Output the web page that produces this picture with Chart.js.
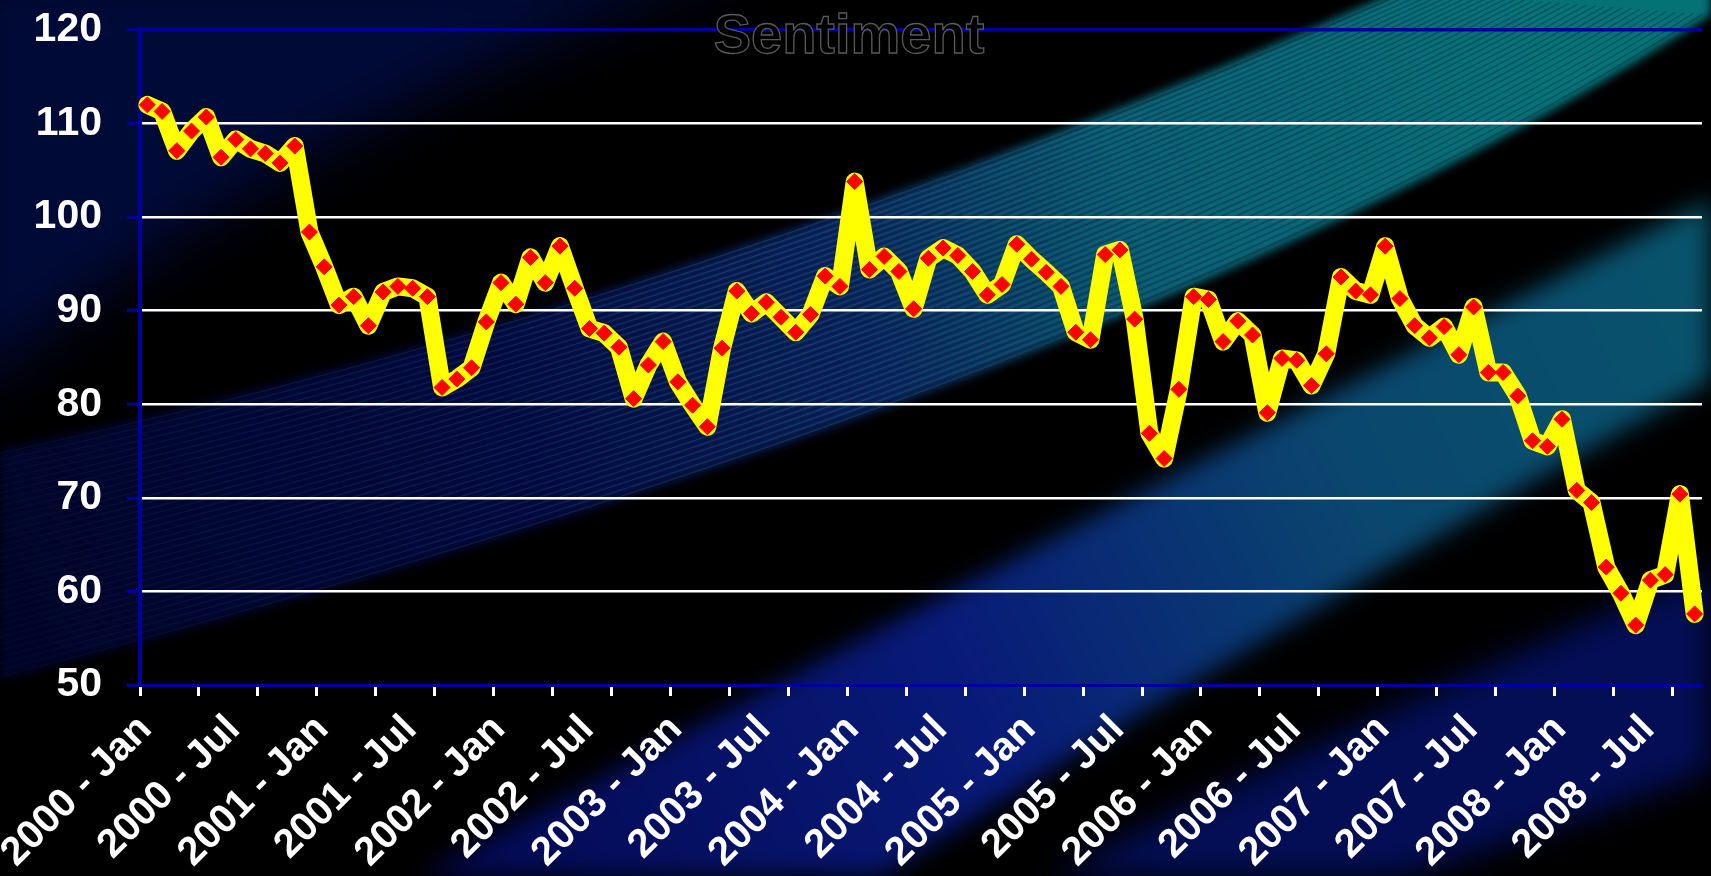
<!DOCTYPE html>
<html>
<head>
<meta charset="utf-8">
<title>Sentiment</title>
<script src="https://cdn.jsdelivr.net/npm/chart.js@4.4.1/dist/chart.umd.min.js"></script>
<style>
  html, body { margin: 0; padding: 0; background: #000; }
  #wrap { position: relative; width: 1711px; height: 876px; }
</style>
</head>
<body>
<div id="wrap"><canvas id="sentimentChart"></canvas></div>
<script>
'use strict';

// Monthly index readings, one array per year (2008 runs to October)
const s2000 = [112.0, 111.3, 107.1, 109.2, 110.7, 106.4, 108.3, 107.3, 106.8, 105.8, 107.6, 98.4];
const s2001 = [94.7, 90.6, 91.5, 88.4, 92.0, 92.6, 92.4, 91.5, 81.8, 82.7, 83.9, 88.8];
const s2002 = [93.0, 90.7, 95.7, 93.0, 96.9, 92.4, 88.1, 87.6, 86.1, 80.6, 84.2, 86.7];
const s2003 = [82.4, 79.9, 77.6, 86.0, 92.1, 89.7, 90.9, 89.3, 87.7, 89.6, 93.7, 92.6];
const s2004 = [103.8, 94.4, 95.8, 94.2, 90.2, 95.6, 96.7, 95.9, 94.2, 91.7, 92.8, 97.1];
const s2005 = [95.5, 94.1, 92.6, 87.7, 86.9, 96.0, 96.5, 89.1, 76.9, 74.2, 81.6, 91.5];
const s2006 = [91.2, 86.7, 88.9, 87.4, 79.1, 84.9, 84.7, 82.0, 85.4, 93.6, 92.1, 91.7];
const s2007 = [96.9, 91.3, 88.4, 87.1, 88.3, 85.3, 90.4, 83.4, 83.4, 80.9, 76.1, 75.5];
const s2008 = [78.4, 70.8, 69.5, 62.6, 59.8, 56.4, 61.2, 61.8, 70.4, 57.6];

const years  = [2000, 2001, 2002, 2003, 2004, 2005, 2006, 2007, 2008];
const months = ['Jan', 'Feb', 'Mar', 'Apr', 'May', 'Jun', 'Jul', 'Aug', 'Sep', 'Oct', 'Nov', 'Dec'];
const yTicks = [50, 60, 70, 80, 90, 100, 110, 120];

const sentiment  = [].concat(s2000, s2001, s2002, s2003, s2004, s2005, s2006, s2007, s2008);
const categories = years.flatMap(y => months.map(m => `${y} - ${m}`)).slice(0, sentiment.length);

const NAVY = '#0000a0';
const FONT = '"Liberation Sans", Arial, sans-serif';

// quadratic edge helpers for the background swooshes
function lerpPt(a, b, t) { return [a[0] + (b[0] - a[0]) * t, a[1] + (b[1] - a[1]) * t]; }

function bandPath(ctx, up, low, extra) {
  ctx.beginPath();
  ctx.moveTo(up[0][0], up[0][1]);
  ctx.quadraticCurveTo(up[1][0], up[1][1], up[2][0], up[2][1]);
  (extra || []).forEach(p => ctx.lineTo(p[0], p[1]));
  ctx.lineTo(low[0][0], low[0][1]);
  ctx.quadraticCurveTo(low[1][0], low[1][1], low[2][0], low[2][1]);
  ctx.closePath();
}

const swooshBackground = {
  id: 'swooshBackground',
  beforeDraw(chart) {
    const { ctx, width, height } = chart;
    ctx.save();
    ctx.fillStyle = '#000';
    ctx.fillRect(0, 0, width, height);

    // navy haze in the top-left corner
    ctx.filter = 'blur(30px)';
    ctx.fillStyle = 'rgb(0,10,55)';
    ctx.beginPath();
    ctx.moveTo(-40, -40);
    ctx.lineTo(760, -40);
    ctx.quadraticCurveTo(300, 110, -40, 400);
    ctx.closePath();
    ctx.fill();

    // upper band: dark navy on the left, teal to the top right
    const aUp  = [[0, 450], [700, 300], [1400, -10]];
    const aLow = [[1711, 15], [1150, 380], [0, 680]];
    const gA = ctx.createLinearGradient(0, 600, 1711, 0);
    gA.addColorStop(0, 'rgb(0,4,40)');
    gA.addColorStop(0.3, 'rgb(2,10,65)');
    gA.addColorStop(0.5, 'rgb(10,38,92)');
    gA.addColorStop(0.66, 'rgb(10,92,112)');
    gA.addColorStop(0.9, 'rgb(5,114,118)');
    ctx.filter = 'blur(5px)';
    ctx.fillStyle = gA;
    bandPath(ctx, aUp, aLow, [[1711, -10]]);
    ctx.fill();

    // fine streaks running along the upper band, brightest mid-way
    ctx.filter = 'none';
    ctx.save();
    bandPath(ctx, aUp, aLow, [[1711, -10]]);
    ctx.clip();
    const sg = ctx.createLinearGradient(0, 600, 1711, 0);
    sg.addColorStop(0, 'rgba(80,170,180,0.03)');
    sg.addColorStop(0.45, 'rgba(80,170,180,0.2)');
    sg.addColorStop(0.7, 'rgba(80,170,180,0.08)');
    sg.addColorStop(1, 'rgba(80,170,180,0.02)');
    const aLowFwd = [aLow[2], aLow[1], aLow[0]];
    ctx.lineWidth = 1.2;
    for (let k = 1; k < 70; k++) {
      const t = k / 70;
      const p0 = lerpPt(aUp[0], aLowFwd[0], t);
      const p1 = lerpPt(aUp[1], aLowFwd[1], t);
      const p2 = lerpPt(aUp[2], aLowFwd[2], t);
      ctx.strokeStyle = k % 2 ? sg : 'rgba(0,8,50,0.3)';
      ctx.beginPath();
      ctx.moveTo(p0[0], p0[1]);
      ctx.quadraticCurveTo(p1[0], p1[1], p2[0], p2[1]);
      ctx.stroke();
    }
    ctx.restore();

    // lower band: blue at the bottom, teal towards the right edge
    const gB = ctx.createLinearGradient(420, 876, 1711, 250);
    gB.addColorStop(0, 'rgb(3,8,80)');
    gB.addColorStop(0.4, 'rgb(8,26,120)');
    gB.addColorStop(0.7, 'rgb(10,70,110)');
    gB.addColorStop(1, 'rgb(8,84,108)');
    ctx.filter = 'blur(12px)';
    ctx.fillStyle = gB;
    bandPath(ctx, [[420, 876], [1000, 560], [1711, 200]], [[1711, 380], [1300, 610], [880, 876]]);
    ctx.fill();

    // thin navy stripe in the bottom-right corner
    ctx.fillStyle = 'rgb(3,14,85)';
    ctx.filter = 'blur(16px)';
    bandPath(ctx, [[1050, 876], [1400, 700], [1711, 570]], [[1711, 770], [1550, 830], [1400, 876]]);
    ctx.fill();
    ctx.restore();
  }
};

// chart title in black with a grey outline, drawn over the top border
const outlinedTitle = {
  id: 'outlinedTitle',
  afterDraw(chart) {
    const { ctx } = chart;
    ctx.save();
    ctx.font = `bold 56px ${FONT}`;
    ctx.textAlign = 'center';
    ctx.textBaseline = 'alphabetic';
    ctx.fillStyle = '#000';
    ctx.fillText('Sentiment', 849, 53);
    ctx.lineWidth = 1.3;
    ctx.strokeStyle = '#5a5a5a';
    ctx.strokeText('Sentiment', 849, 53);
    ctx.restore();
  }
};

new Chart(document.getElementById('sentimentChart'), {
  type: 'line',
  data: {
    labels: categories,
    datasets: [{
      label: 'Sentiment',
      data: sentiment,
      borderColor: '#ffff00',
      borderWidth: 18,
      borderJoinStyle: 'round',
      borderCapStyle: 'round',
      tension: 0,
      pointStyle: 'rectRot',
      pointRadius: 8,
      pointBackgroundColor: '#ff0000',
      pointBorderColor: '#ff0000',
      pointBorderWidth: 1,
      clip: false,
    }],
  },
  options: {
    responsive: true,
    maintainAspectRatio: false,
    animation: false,
    layout: { padding: { top: 30, right: 0, bottom: 0, left: 0 } },
    plugins: {
      legend: { display: false },
      title: { display: false },
      tooltip: { enabled: false },
    },
    scales: {
      x: {
        type: 'category',
        offset: true,
        afterFit: s => { s.height = 191; s.paddingLeft = 0; s.paddingRight = 0; },
        grid: {
          offset: true,
          drawOnChartArea: false,
          tickLength: 11,
          tickWidth: 3,
          tickColor: c => (c.index % 4 === 0 ? '#ffffff' : 'rgba(0,0,0,0)'),
        },
        border: { color: NAVY, width: 3 },
        ticks: {
          autoSkip: false,
          minRotation: 45,
          maxRotation: 45,
          padding: 10,
          labelOffset: -2,
          color: '#ffffff',
          font: { family: FONT, size: 40, weight: 'bold' },
          callback: (v, i) => (i % 6 === 0 ? categories[i] : ''),
        },
      },
      y: {
        min: yTicks[0],
        max: yTicks[yTicks.length - 1],
        afterFit: s => { s.width = 140; s.paddingTop = 0; s.paddingBottom = 0; },
        afterBuildTicks: s => { s.ticks = yTicks.map(v => ({ value: v })); },
        grid: {
          color: c => (c.tick && c.tick.value === 120 ? NAVY : '#ffffff'),
          lineWidth: c => (c.tick && c.tick.value === 120 ? 3.5 : 2.5),
          tickLength: 13,
          tickWidth: 3,
          tickColor: NAVY,
        },
        border: { color: NAVY, width: 4 },
        ticks: {
          padding: 25,
          color: '#ffffff',
          font: { family: FONT, size: 41, weight: 'bold' },
        },
      },
    },
  },
  plugins: [swooshBackground, outlinedTitle],
});
</script>
</body>
</html>
